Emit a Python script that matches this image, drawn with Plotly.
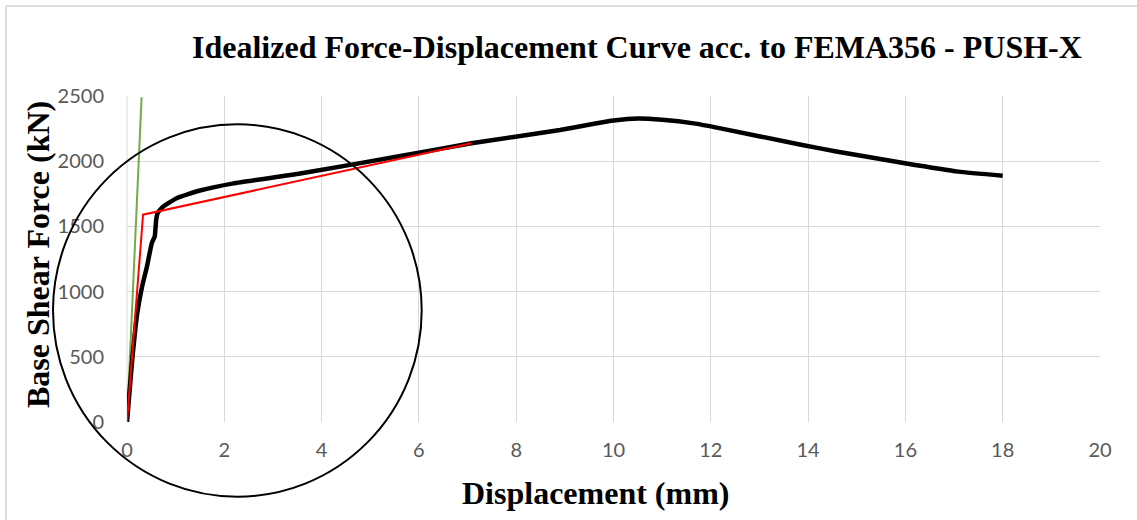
import plotly.graph_objects as go

# Capacity (pushover) curve
disp = [0, 0.1, 0.21, 0.31, 0.41, 0.51, 0.57, 0.6, 0.63, 0.75, 1.03, 1.5, 2.19, 3.56,
        5.62, 7.08, 8.9, 9.6, 10.0, 10.5, 11.0, 11.65, 12.2, 13.88, 14.61, 15.99, 17.09, 18.0]
force = [0, 449, 833, 1038, 1192, 1372, 1423, 1551, 1603, 1654, 1718, 1775, 1830, 1905,
         2040, 2137, 2239, 2287, 2312, 2328, 2318, 2290, 2252, 2124, 2073, 1984, 1920, 1889]

# Idealized bilinear curve (FEMA356)
bil_disp = [0, 0.33, 7.08]
bil_force = [0, 1590, 2137]

# Initial stiffness line
k_disp = [0, 0.30]
k_force = [0, 2490]

x_ticks = list(range(0, 21, 2))
y_ticks = list(range(0, 2501, 500))

title_text = "Idealized Force-Displacement Curve acc. to FEMA356 - PUSH-X"
x_title = "Displacement (mm)"
y_title = "Base Shear Force (kN)"

W, H = 1137, 520
L, R, T, B = 127, 37, 96, 98
pw, ph = W - L - R, H - T - B


def px(xp):
    return (xp - L) / pw


def py(yp):
    return (H - B - yp) / ph


fig = go.Figure()
fig.add_trace(go.Scatter(x=k_disp, y=k_force, mode="lines",
                         line=dict(color="#70ad47", width=2), showlegend=False))
fig.add_trace(go.Scatter(x=disp, y=force, mode="lines",
                         line=dict(color="#000000", width=4.5, shape="spline", smoothing=0.4),
                         showlegend=False))
fig.add_trace(go.Scatter(x=bil_disp, y=bil_force, mode="lines",
                         line=dict(color="#ff0000", width=2), showlegend=False))

tick_font = dict(family="Lato", size=20, color="#595959")
fig.update_layout(
    width=W, height=H,
    margin=dict(l=L, r=R, t=T, b=B),
    paper_bgcolor="white", plot_bgcolor="white",
    xaxis=dict(range=[0, 20], tickvals=x_ticks, showgrid=True, gridcolor="#d9d9d9",
               gridwidth=1, zeroline=False, showline=False, ticks="",
               tickfont=tick_font, ticklabelstandoff=14, fixedrange=True),
    yaxis=dict(range=[0, 2500], tickvals=y_ticks, showgrid=True, gridcolor="#d9d9d9",
               gridwidth=1, zeroline=False, showline=False, ticks="",
               tickfont=tick_font, ticklabelstandoff=22, fixedrange=True),
    shapes=[
        dict(type="line", xref="paper", yref="paper", x0=0, x1=0, y0=0, y1=1,
             line=dict(color="#d9d9d9", width=1), layer="below"),
        dict(type="rect", xref="paper", yref="paper", x0=px(6), x1=px(1160), y0=py(560), y1=py(6),
             line=dict(color="#bfbfbf", width=1), layer="below"),
        dict(type="circle", xref="paper", yref="paper", x0=px(53), x1=px(421.7),
             y0=py(496.7), y1=py(124.3), line=dict(color="black", width=2)),
    ],
    annotations=[
        dict(text=title_text, xref="paper", yref="paper", x=px(637), y=py(47), showarrow=False,
             font=dict(family="Liberation Serif", size=32, color="black"), xanchor="center", yanchor="middle"),
        dict(text=x_title, xref="paper", yref="paper", x=px(595), y=py(493), showarrow=False,
             font=dict(family="Liberation Serif", size=32, color="black"), xanchor="center", yanchor="middle"),
        dict(text=y_title, xref="paper", yref="paper", x=px(38), y=py(255), showarrow=False, textangle=-90,
             font=dict(family="Liberation Serif", size=32, color="black"), xanchor="center", yanchor="middle"),
    ],
)
for a in fig.layout.annotations:
    a.text = "<b>" + a.text + "</b>"

fig.write_html("out.html")
